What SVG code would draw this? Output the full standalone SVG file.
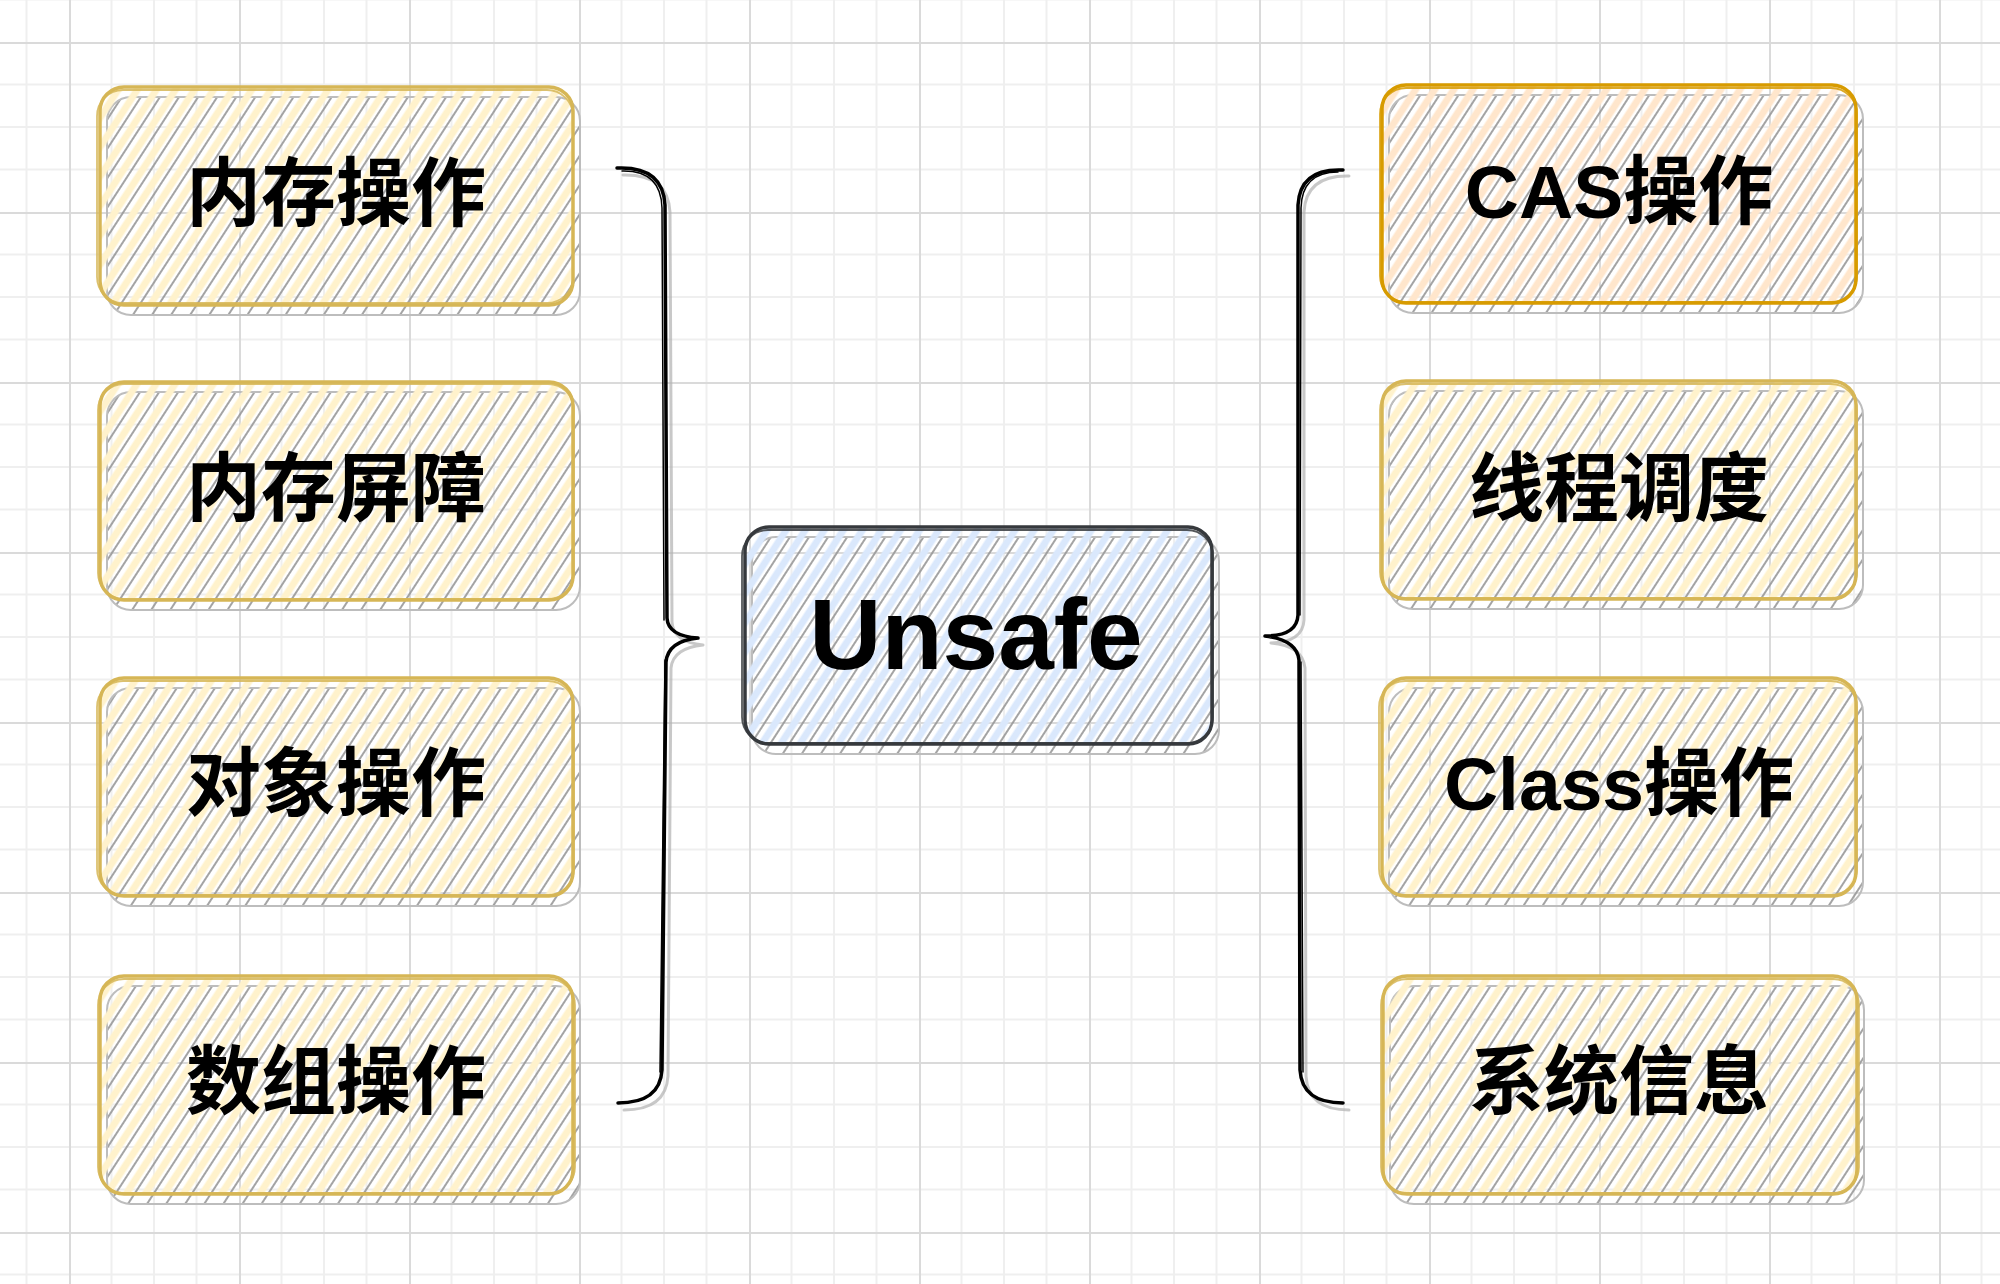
<svg xmlns="http://www.w3.org/2000/svg" width="2000" height="1284" viewBox="0 0 2000 1284">
<defs>
<style>
.lbl{font-family:"Liberation Sans","Noto Sans CJK SC",sans-serif;font-weight:bold;font-size:75px;fill:#000;text-anchor:middle;dominant-baseline:central}
.big{font-size:100px}
.sh{fill:url(#hG);stroke:#bdbdbd;stroke-width:2}
.y1{fill:none;stroke:#d6b656;stroke-width:3.5}
.y2{fill:none;stroke:#d6b656;stroke-width:1.8;opacity:0.85}
.o1{fill:none;stroke:#d79b00;stroke-width:3.5}
.o2{fill:none;stroke:#d79b00;stroke-width:1.8;opacity:0.85}
.b1{fill:none;stroke:#36393d;stroke-width:3.5}
.b2{fill:none;stroke:#36393d;stroke-width:1.8;opacity:0.85}
.br{fill:none;stroke:#000;stroke-width:3.5;stroke-linecap:round;stroke-linejoin:round}
.br2{fill:none;stroke:#000;stroke-width:1.5;stroke-linecap:round}
.brs{fill:none;stroke:#b0b0b0;stroke-width:3;stroke-linecap:round;opacity:0.7}
</style>
<pattern id="grid" x="69" y="42" width="170" height="170" patternUnits="userSpaceOnUse">
<path d="M42.5,0V170M85,0V170M127.5,0V170M0,42.5H170M0,85H170M0,127.5H170" stroke="#efefef" stroke-width="2"/>
<path d="M1,0V170M0,1H170" stroke="#dadada" stroke-width="2"/>
</pattern>
<pattern id="hG" width="16" height="16" patternUnits="userSpaceOnUse" patternTransform="rotate(33)">
<line x1="11" y1="0" x2="11" y2="16" stroke="#9a9a9a" stroke-width="1.8"/>
</pattern>
<pattern id="hY" width="16" height="16" patternUnits="userSpaceOnUse" patternTransform="rotate(33)">
<line x1="4" y1="0" x2="4" y2="16" stroke="#fff2cc" stroke-width="7"/>
</pattern>
<pattern id="hO" width="16" height="16" patternUnits="userSpaceOnUse" patternTransform="rotate(33)">
<line x1="4" y1="0" x2="4" y2="16" stroke="#ffe6cc" stroke-width="7"/>
</pattern>
<pattern id="hB" width="16" height="16" patternUnits="userSpaceOnUse" patternTransform="rotate(33)">
<line x1="4" y1="0" x2="4" y2="16" stroke="#dae8fc" stroke-width="7"/>
</pattern>
</defs>
<rect width="2000" height="1284" fill="#ffffff"/>
<rect width="2000" height="1284" fill="url(#grid)"/>

<g id="n-mem">
<rect class="sh" x="107" y="97" width="473" height="218" rx="24"/>
<rect x="100" y="87" width="473" height="218" rx="24" fill="url(#hY)"/>
<rect class="y1" x="100" y="87" width="473" height="218" rx="24"/>
<rect class="y2" x="97" y="90" width="476" height="213" rx="26"/>
<text class="lbl" x="336" y="194">内存操作</text>
</g>
<g id="n-barrier">
<rect class="sh" x="107" y="392" width="473" height="218" rx="24"/>
<rect x="100" y="382" width="473" height="218" rx="24" fill="url(#hY)"/>
<rect class="y1" x="100" y="382" width="473" height="218" rx="24"/>
<rect class="y2" x="98" y="384" width="476" height="215" rx="26"/>
<text class="lbl" x="336" y="489">内存屏障</text>
</g>
<g id="n-obj">
<rect class="sh" x="107" y="688" width="473" height="218" rx="24"/>
<rect x="100" y="678" width="473" height="218" rx="24" fill="url(#hY)"/>
<rect class="y1" x="100" y="678" width="473" height="218" rx="24"/>
<rect class="y2" x="97" y="681" width="477" height="214" rx="26"/>
<text class="lbl" x="336" y="784">对象操作</text>
</g>
<g id="n-arr">
<rect class="sh" x="107" y="986" width="473" height="218" rx="24"/>
<rect x="100" y="976" width="473" height="218" rx="24" fill="url(#hY)"/>
<rect class="y1" x="100" y="976" width="473" height="218" rx="24"/>
<rect class="y2" x="98" y="979" width="477" height="214" rx="26"/>
<text class="lbl" x="336" y="1082">数组操作</text>
</g>

<g id="n-unsafe">
<rect class="sh" x="752" y="537" width="467" height="217" rx="24"/>
<rect x="745" y="527" width="467" height="217" rx="24" fill="url(#hB)"/>
<rect class="b1" x="745" y="527" width="467" height="217" rx="24"/>
<rect class="b2" x="742" y="530" width="471" height="213" rx="26"/>
<text class="lbl big" x="976" y="634">Unsafe</text>
</g>

<g id="n-cas">
<rect class="sh" x="1389" y="95" width="474" height="218" rx="24"/>
<rect x="1382" y="85" width="474" height="218" rx="24" fill="url(#hO)"/>
<rect class="o1" x="1382" y="85" width="474" height="218" rx="24"/>
<rect class="o2" x="1380" y="88" width="477" height="214" rx="26"/>
<text class="lbl" x="1619" y="192">CAS操作</text>
</g>
<g id="n-thread">
<rect class="sh" x="1389" y="391" width="474" height="218" rx="24"/>
<rect x="1382" y="381" width="474" height="218" rx="24" fill="url(#hY)"/>
<rect class="y1" x="1382" y="381" width="474" height="218" rx="24"/>
<rect class="y2" x="1380" y="384" width="477" height="214" rx="26"/>
<text class="lbl" x="1619" y="489">线程调度</text>
</g>
<g id="n-class">
<rect class="sh" x="1389" y="688" width="474" height="218" rx="24"/>
<rect x="1382" y="678" width="474" height="218" rx="24" fill="url(#hY)"/>
<rect class="y1" x="1382" y="678" width="474" height="218" rx="24"/>
<rect class="y2" x="1379" y="681" width="478" height="214" rx="26"/>
<text class="lbl" x="1619" y="784">Class操作</text>
</g>
<g id="n-sys">
<rect class="sh" x="1390" y="986" width="474" height="218" rx="24"/>
<rect x="1383" y="976" width="474" height="218" rx="24" fill="url(#hY)"/>
<rect class="y1" x="1383" y="976" width="474" height="218" rx="24"/>
<rect class="y2" x="1381" y="979" width="478" height="214" rx="26"/>
<text class="lbl" x="1619" y="1082">系统信息</text>
</g>

<g id="connectors">
<path class="brs" d="M623,175 Q668,174 670,212 L672,622 Q673,642 703,645 M703,645 Q673,648 671,668 L668,1076 Q666,1110 624,1110"/>
<path class="br" d="M617,168 Q663,166 665,205 L667,618 Q668,636 698,638 M698,638 Q668,641 666,662 L662,1070 Q660,1103 618,1103"/>
<path class="br2" d="M622,171 Q661,170 662,208 L664,620 M665,660 L660,1072"/>
<path class="brs" d="M1349,176 Q1306,175 1304,212 L1304,620 Q1303,642 1271,643 M1271,643 Q1303,646 1305,668 L1306,1076 Q1308,1110 1349,1110"/>
<path class="br" d="M1343,170 Q1300,168 1298,205 L1298,615 Q1297,636 1265,636 M1265,636 Q1297,640 1299,660 L1300,1070 Q1302,1103 1343,1103"/>
<path class="br2" d="M1338,172 Q1302,172 1301,208 L1300,615 M1301,662 L1303,1072"/>
</g>
</svg>
